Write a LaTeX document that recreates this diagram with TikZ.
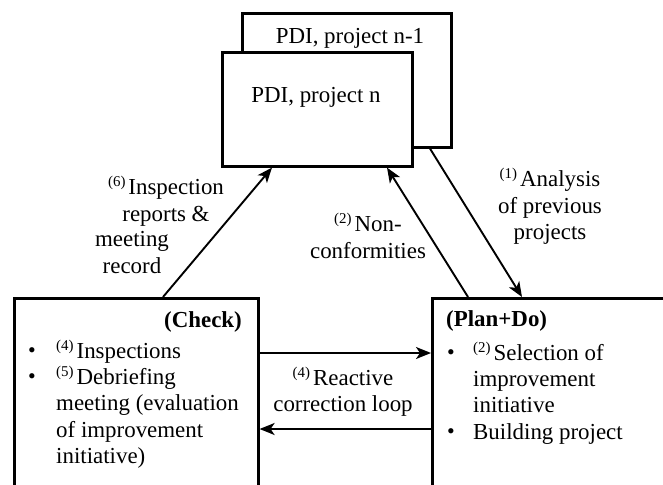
\documentclass[tikz,border=0pt]{standalone}
\usepackage{fontspec}
\setmainfont{Liberation Serif}
\usetikzlibrary{arrows.meta}
% small raised step numbers, e.g. (4)
\newcommand\supn[1]{\raisebox{8bp}{\fontsize{15}{15}\selectfont(#1)}\hspace{3bp}}
% bullet in a fixed-width slot
\newcommand\bul[1]{\makebox[#1][l]{\raisebox{0.5bp}{\fontsize{22}{22}\selectfont\textbullet}}}
\begin{document}
\begin{tikzpicture}[x=1bp,y=-1bp,
  box/.style={draw, line width=2.6bp, inner sep=0pt, anchor=north west},
  conn/.style={line width=1.9bp, -{Stealth[length=15bp,width=12bp,inset=4bp]}},
  txt/.style={inner sep=0pt, font=\fontsize{23}{26.5}\selectfont}]
\useasboundingbox (0,0) rectangle (663,485);

% stacked project records
\node[box, minimum width=209bp, minimum height=134bp] (prev) at (241,12) {};
\node[txt] (prevlabel) at (350,38) {PDI, project n-1};
\node[box, fill=white, minimum width=190bp, minimum height=114bp] (cur) at (221,51) {};
\node[txt] (curlabel) at (316,97) {PDI, project n};

% phase boxes (open towards the page edges)
\node[box, minimum width=244bp, minimum height=240bp] (check) at (13,297) {};
\node[box, minimum width=300bp, minimum height=240bp] (plan) at (431,297) {};

% check phase contents
\node[txt, anchor=base east] (checktitle) at (242,327) {\textbf{(Check)}};
\node[txt, anchor=base west] (checklist) at (28,358) {%
  \begin{tabular}[t]{@{}l@{}l@{}}
  \bul{28bp} & \supn{4}Inspections\\
  \bul{28bp} & \supn{5}Debriefing\\
   & meeting (evaluation\\
   & of improvement\\
   & initiative)
  \end{tabular}};

% plan+do phase contents
\node[txt, anchor=base west] (plantitle) at (446,326) {\textbf{(Plan+Do)}};
\node[txt, anchor=base west] (planlist) at (447,360) {%
  \begin{tabular}[t]{@{}l@{}l@{}}
  \bul{26bp} & \supn{2}Selection of\\
   & improvement\\
   & initiative\\
  \bul{26bp} & Building project
  \end{tabular}};

% connectors
\draw[conn] ([xshift=150bp]check.north west) -- ([xshift=51bp]cur.south west);
\draw[conn] ([xshift=37bp]plan.north west) -- ([xshift=166bp]cur.south west);
\draw[conn] ([xshift=189bp]prev.south west) -- ([xshift=91bp]plan.north west);
\draw[conn] ([yshift=-56bp]check.north east) -- ([yshift=-56bp]plan.north west);
\draw[conn] ([yshift=-132bp]plan.north west) -- ([yshift=-132bp]check.north east);

% connector labels
\node[txt, anchor=base] (l6a) at (166,195) {%
  \begin{tabular}[t]{@{}c@{}}\supn{6}Inspection\\ reports \&\end{tabular}};
\node[txt, anchor=base] (l6b) at (132,247) {%
  \begin{tabular}[t]{@{}c@{}}meeting\\ record\end{tabular}};
\node[txt, anchor=base] (l2) at (368,232) {%
  \begin{tabular}[t]{@{}c@{}}\supn{2}Non-\\ conformities\end{tabular}};
\node[txt, anchor=base] (l1) at (550,187) {%
  \begin{tabular}[t]{@{}c@{}}\supn{1}Analysis\\ of previous\\ projects\end{tabular}};
\node[txt, anchor=base] (l4) at (343,385) {%
  \begin{tabular}[t]{@{}c@{}}\supn{4}Reactive\\ correction loop\end{tabular}};
\end{tikzpicture}
\end{document}
